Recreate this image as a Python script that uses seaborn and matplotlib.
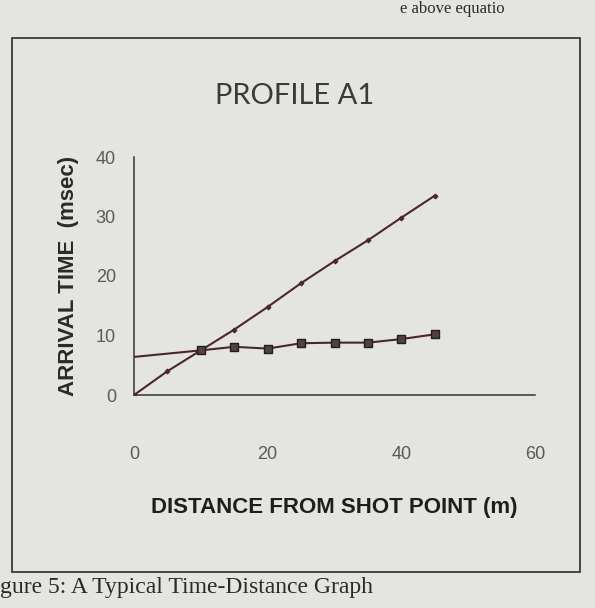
import pandas as pd
import matplotlib.pyplot as plt
import seaborn as sns
from matplotlib.patches import Rectangle

# valores (PROFILE A1)
dist_directa = [0, 5, 10, 15, 20, 25, 30, 35, 40, 45]
tiempo_directa = [0, 4.0, 7.5, 11.0, 14.8, 18.8, 22.5, 26.0, 29.8, 33.5]

dist_refractada = [10, 15, 20, 25, 30, 35, 40, 45]
tiempo_refractada = [7.5, 8.1, 7.8, 8.7, 8.8, 8.8, 9.4, 10.2]

# la linea de la refractada arranca en el eje (intercepto ~6.4 ms)
dist_linea_ref = [0, 10, 15, 20, 25, 30, 35, 40, 45]
tiempo_linea_ref = [6.4, 7.5, 8.1, 7.8, 8.7, 8.8, 8.8, 9.4, 10.2]

x_ticks = [0, 20, 40, 60]
y_ticks = [0, 10, 20, 30, 40]

directa = pd.DataFrame({'dist': dist_directa, 'tiempo': tiempo_directa})
refractada = pd.DataFrame({'dist': dist_refractada, 'tiempo': tiempo_refractada})
linea_ref = pd.DataFrame({'dist': dist_linea_ref, 'tiempo': tiempo_linea_ref})

sns.set_theme(style='white')
plt.rcParams['font.family'] = ['Liberation Sans', 'DejaVu Sans']

papel = '#e4e5e1'
tinta = '#4a2630'

fig = plt.figure(figsize=(5.95, 6.08), dpi=100, facecolor=papel)
W, H = 595, 608

# marco de la figura
fig.add_artist(Rectangle((12 / W, 1 - 572 / H), 568 / W, (572 - 38) / H,
                         transform=fig.transFigure, fill=False,
                         edgecolor='#3a3a3a', linewidth=1.3))

ax = fig.add_axes([134 / W, 1 - 395 / H, (535 - 134) / W, (395 - 157) / H])
ax.set_facecolor(papel)

sns.lineplot(data=directa, x='dist', y='tiempo', ax=ax, color=tinta,
             linewidth=1.5, marker='D', markersize=2.5, markeredgecolor=tinta)
sns.lineplot(data=linea_ref, x='dist', y='tiempo', ax=ax, color=tinta,
             linewidth=1.5)
sns.scatterplot(data=refractada, x='dist', y='tiempo', ax=ax, marker='s',
                s=38, color='#4f4246', edgecolor='#2a1a1e', linewidth=1,
                zorder=3)

ax.set_xlim(0, 60)
ax.set_ylim(0, 40)
ax.set_xticks(x_ticks)
ax.set_yticks(y_ticks)
ax.tick_params(axis='both', direction='out', length=5, width=1,
               color='#333333', labelcolor='#5a5a5a', labelsize=13)
ax.tick_params(axis='x', pad=32)
ax.tick_params(axis='y', pad=8)
sns.despine(ax=ax)
for lado in ['left', 'bottom']:
    ax.spines[lado].set_color('#333333')
    ax.spines[lado].set_linewidth(1.1)

ax.set_xlabel('DISTANCE FROM SHOT POINT (m)', fontsize=16, fontweight='bold',
              color='#1e1e1e', labelpad=24)
ax.set_ylabel('ARRIVAL TIME  (msec)', fontsize=16, fontweight='bold',
              color='#2a2a2a', labelpad=12)

fig.text(295 / W, 1 - 96 / H, 'PROFILE A1', ha='center', va='center',
         fontsize=21, color='#3a3a3a', family='Lato')

fig.text(0 / W, 1 - 588 / H, 'gure 5: A Typical Time-Distance Graph',
         ha='left', va='center', fontsize=17, color='#2a2a2a',
         family='Liberation Serif')
fig.text(400 / W, 1 - 1 / H, 'e above equatio', ha='left', va='top',
         fontsize=12, color='#2a2a2a', family='Liberation Serif')

fig.savefig('out.png', dpi=100, facecolor=papel)
